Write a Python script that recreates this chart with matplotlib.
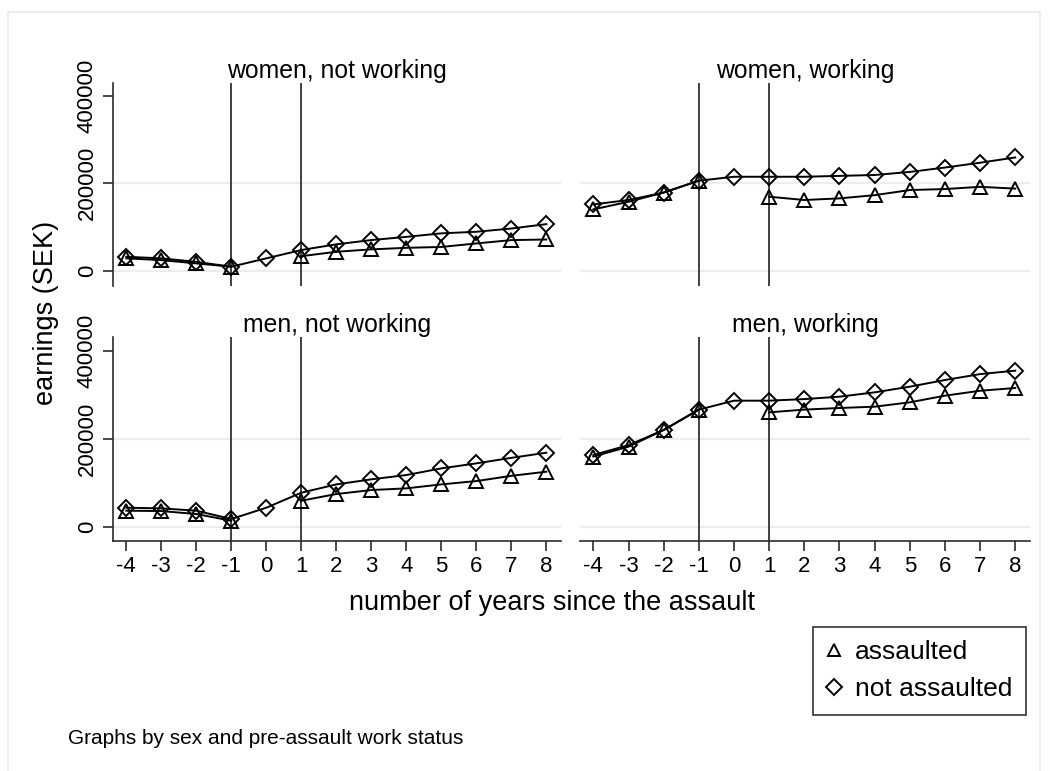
import numpy as np
import matplotlib
matplotlib.use("Agg")
import matplotlib.pyplot as plt
from matplotlib.lines import Line2D

plt.rcParams['font.family'] = ['Liberation Sans', 'DejaVu Sans']

years = [-4, -3, -2, -1, 0, 1, 2, 3, 4, 5, 6, 7, 8]
nan = np.nan

panel_titles = ["women, not working", "women, working", "men, not working", "men, working"]

assaulted = {
    "women, not working": [29000, 25000, 17500, 10000, nan, 34000, 44000, 49500, 53000, 55000, 63000, 70600, 72000],
    "women, working":     [140600, 158000, 179000, 206000, nan, 169500, 162000, 165700, 173000, 184700, 187000, 192000, 188000],
    "men, not working":   [36500, 35700, 28900, 13700, nan, 59300, 74500, 83600, 87400, 96500, 104000, 116000, 125400],
    "men, working":       [160000, 182500, 220500, 267000, nan, 260800, 267000, 270700, 273700, 283600, 298800, 310000, 316300],
}
not_assaulted = {
    "women, not working": [32600, 29000, 21000, 10000, 29000, 48000, 61000, 70700, 78000, 86000, 89600, 97000, 107000],
    "women, working":     [152000, 162000, 179000, 206000, 215000, 215000, 215000, 217000, 219000, 226000, 236000, 247000, 259000],
    "men, not working":   [43300, 41800, 36500, 17500, 43300, 77500, 96500, 108000, 117800, 133000, 144400, 157000, 168700],
    "men, working":       [163500, 186000, 220500, 267000, 287400, 287400, 291000, 296500, 306400, 319300, 334500, 348000, 355800],
}
yticks = [0, 200000, 400000]
vlines = [-1, 1]
legend_labels = ["assaulted", "not assaulted"]

W, H = 1050, 771
fig = plt.figure(figsize=(W / 100, H / 100), dpi=100)
fig.patch.set_facecolor("white")

frame_col = "#e6eef0"
# outer light frame (left, top, right edges)
fig.add_artist(Line2D([8 / W, 8 / W, 1040 / W, 1040 / W],
                      [0, 1 - 12 / H, 1 - 12 / H, 0],
                      transform=fig.transFigure, color=frame_col, lw=1.5))

def px_axes(x0, y0, x1, y1):
    return fig.add_axes([x0 / W, 1 - y1 / H, (x1 - x0) / W, (y1 - y0) / H])

boxes = [(113, 83, 561, 286), (580, 83, 1030, 286),
         (113, 337, 561, 541), (580, 337, 1030, 541)]
ylims = [(-34000, 428700), (-34000, 428700), (-32600, 432600), (-32600, 432600)]

axis_col = "#2b2b2b"
tick_fs = 16
mk_kw = dict(mfc="none", mec="black", mew=1.4)

for i, (name, box) in enumerate(zip(panel_titles, boxes)):
    ax = px_axes(*box)
    ax.set_facecolor("white")
    ax.set_xlim(-4.38, 8.42)
    ax.set_ylim(*ylims[i])
    for s in ax.spines.values():
        s.set_visible(False)
    left = i % 2 == 0
    bottom = i >= 2
    for yv in [0, 200000]:
        ax.axhline(yv, color="#e8eff1", lw=1.6, zorder=0)
    for xv in vlines:
        ax.axvline(xv, color="#404040", lw=1.4, zorder=1)
    ax.plot(years, assaulted[name], color="black", lw=1.4, marker="^",
            ms=10, zorder=3, **mk_kw)
    ax.plot(years, not_assaulted[name], color="black", lw=1.4, marker="D",
            ms=8.5, zorder=3, **mk_kw)
    ax.set_title(name, fontsize=17.8, pad=3.5)
    if left:
        ax.spines["left"].set_visible(True)
        ax.spines["left"].set_color(axis_col)
        ax.spines["left"].set_linewidth(1.2)
        ax.set_yticks(yticks)
        ax.set_yticklabels([str(v) for v in yticks], rotation=90, va="center",
                           fontsize=tick_fs)
        ax.tick_params(axis="y", length=7, width=1.2, color=axis_col, pad=4)
    else:
        ax.set_yticks([])
    if bottom:
        ax.spines["bottom"].set_visible(True)
        ax.spines["bottom"].set_color(axis_col)
        ax.spines["bottom"].set_linewidth(1.2)
        ax.set_xticks(years)
        ax.set_xticklabels([str(v) for v in years], fontsize=tick_fs)
        ax.tick_params(axis="x", length=7, width=1.2, color=axis_col, pad=3.5)
    else:
        ax.set_xticks([])

fig.text(46 / W, 1 - 313 / H, "earnings (SEK)", rotation=90, ha="center",
         va="center", fontsize=19.5)
fig.text(552 / W, 1 - 610 / H, "number of years since the assault",
         ha="center", va="baseline", fontsize=19.5)
fig.text(68 / W, 1 - 744 / H, "Graphs by sex and pre-assault work status",
         ha="left", va="baseline", fontsize=15)

handles = [Line2D([], [], ls="none", marker="^", ms=9, **mk_kw),
           Line2D([], [], ls="none", marker="D", ms=8.5, **mk_kw)]
leg = fig.legend(handles, legend_labels, loc="upper left",
                 bbox_to_anchor=(813 / W, 1 - 627 / H), fontsize=19,
                 frameon=True, fancybox=False, handlelength=0.6,
                 handletextpad=0.5, borderpad=0.5, labelspacing=0.5,
                 borderaxespad=0)
leg.get_frame().set_edgecolor("black")
leg.get_frame().set_linewidth(1.2)

fig.savefig("out.png", dpi=100)
